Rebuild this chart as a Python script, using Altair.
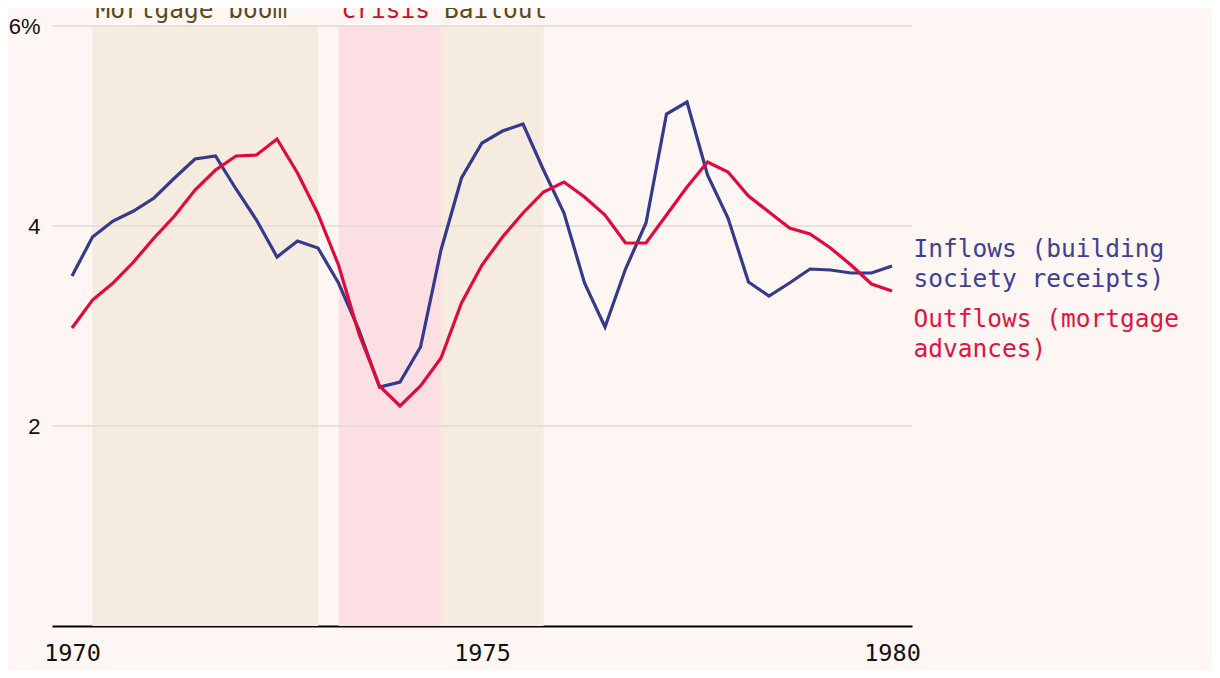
import altair as alt
import pandas as pd

# Quarterly data, 1970 Q1 .. 1980 Q1 (percent)
inflows = [3.50, 3.89, 4.05, 4.15, 4.28, 4.48, 4.67, 4.70, 4.37, 4.06,
           3.69, 3.85, 3.78, 3.43, 2.96, 2.39, 2.44, 2.79, 3.76, 4.48,
           4.83, 4.95, 5.02, 4.56, 4.13, 3.43, 2.99, 3.57, 4.03, 5.12,
           5.24, 4.51, 4.08, 3.44, 3.30, 3.43, 3.57, 3.56, 3.53, 3.53,
           3.60]
outflows = [2.98, 3.26, 3.43, 3.64, 3.88, 4.10, 4.36, 4.56, 4.70, 4.71,
            4.87, 4.53, 4.12, 3.61, 2.92, 2.40, 2.20, 2.40, 2.68, 3.23,
            3.61, 3.89, 4.13, 4.34, 4.44, 4.29, 4.11, 3.83, 3.83, 4.11,
            4.39, 4.64, 4.54, 4.30, 4.14, 3.98, 3.92, 3.78, 3.61, 3.42,
            3.35]
periods = [1970 + q / 4 for q in range(len(inflows))]

band_labels = ["Mortgage boom", "crisis", "Bailout"]
band_start = [1970.25, 1973.25, 1974.5]
band_end = [1973.0, 1974.5, 1975.75]
band_fill = ["#f5ebdf", "#fbdfe3", "#f5ebdf"]
band_text_color = ["#5b4a1c", "#c8102e", "#5b4a1c"]

grid_values = [2, 4, 6]

series_labels = [["Inflows (building", "society receipts)"],
                 ["Outflows (mortgage", "advances)"]]
series_label_y = [3.76, 3.06]
series_colors = ["#353a8c", "#e20a3a"]
series_text_colors = ["#3d4096", "#e0143e"]

df = pd.DataFrame({
    "year": periods * 2,
    "value": inflows + outflows,
    "series": ["Inflows"] * len(inflows) + ["Outflows"] * len(outflows),
})
bands = pd.DataFrame({"label": band_labels, "start": band_start, "end": band_end,
                      "fill": band_fill, "tcolor": band_text_color,
                      "y0": [0] * 3, "y1": [6] * 3, "ty": [6.08] * 3})
grid = pd.DataFrame({"v": grid_values})
lab = pd.DataFrame({"text": series_labels, "y": series_label_y,
                    "x": [1980.25, 1980.25], "color": series_text_colors})

xscale = alt.Scale(domain=[1969.7561, 1980.2439], nice=False, zero=False)
yscale = alt.Scale(domain=[0, 6], nice=False)
MONO = "DejaVu Sans Mono"

rects = alt.Chart(bands).mark_rect().encode(
    x=alt.X("start:Q", scale=xscale,
            axis=alt.Axis(values=[1970, 1975, 1980], format="d", grid=False, ticks=False,
                          domainColor="#000000", domainWidth=2, labelFont=MONO,
                          labelFontSize=23.5, labelColor="#111111", labelPadding=15,
                          title=None)),
    x2="end:Q",
    y=alt.Y("y0:Q", scale=yscale,
            axis=alt.Axis(values=grid_values, format="d", grid=False, ticks=False, domain=False,
                          labelExpr="datum.value == 6 ? '6%' : datum.label",
                          labelFont="Liberation Sans", labelFontSize=22,
                          labelColor="#111111", labelPadding=12, title=None)),
    y2="y1:Q",
    color=alt.Color("fill:N", scale=None),
)

band_text = alt.Chart(bands).mark_text(
    align="left", baseline="alphabetic", font=MONO, fontSize=24.5, dx=3
).encode(
    x=alt.X("start:Q", scale=xscale),
    y=alt.Y("ty:Q", scale=yscale),
    text="label:N",
    color=alt.Color("tcolor:N", scale=None),
)

rules = alt.Chart(grid).mark_rule(color="#e0d9d6", strokeWidth=1.5).encode(
    y=alt.Y("v:Q", scale=yscale)
)

lines = alt.Chart(df).mark_line(strokeWidth=3.2, strokeJoin="miter").encode(
    x=alt.X("year:Q", scale=xscale),
    y=alt.Y("value:Q", scale=yscale),
    color=alt.Color("series:N", scale=alt.Scale(domain=["Inflows", "Outflows"],
                                                range=series_colors), legend=None),
)

labels = alt.Chart(lab).mark_text(
    align="left", baseline="middle", font=MONO, fontSize=24.5, lineHeight=30, dx=1
).encode(
    x=alt.X("x:Q", scale=xscale),
    y=alt.Y("y:Q", scale=yscale),
    text="text",
    color=alt.Color("color:N", scale=None),
)

chart = alt.layer(rects, rules, band_text, lines, labels).properties(
    width=860, height=600,
    background="#fdf6f3",
    autosize=alt.AutoSizeParams(type="none"),
    padding={"left": 44, "top": 18, "right": 300, "bottom": 44},
).configure_view(stroke=None)

chart.save("out.html", embed_options={"renderer": "svg", "actions": False})
